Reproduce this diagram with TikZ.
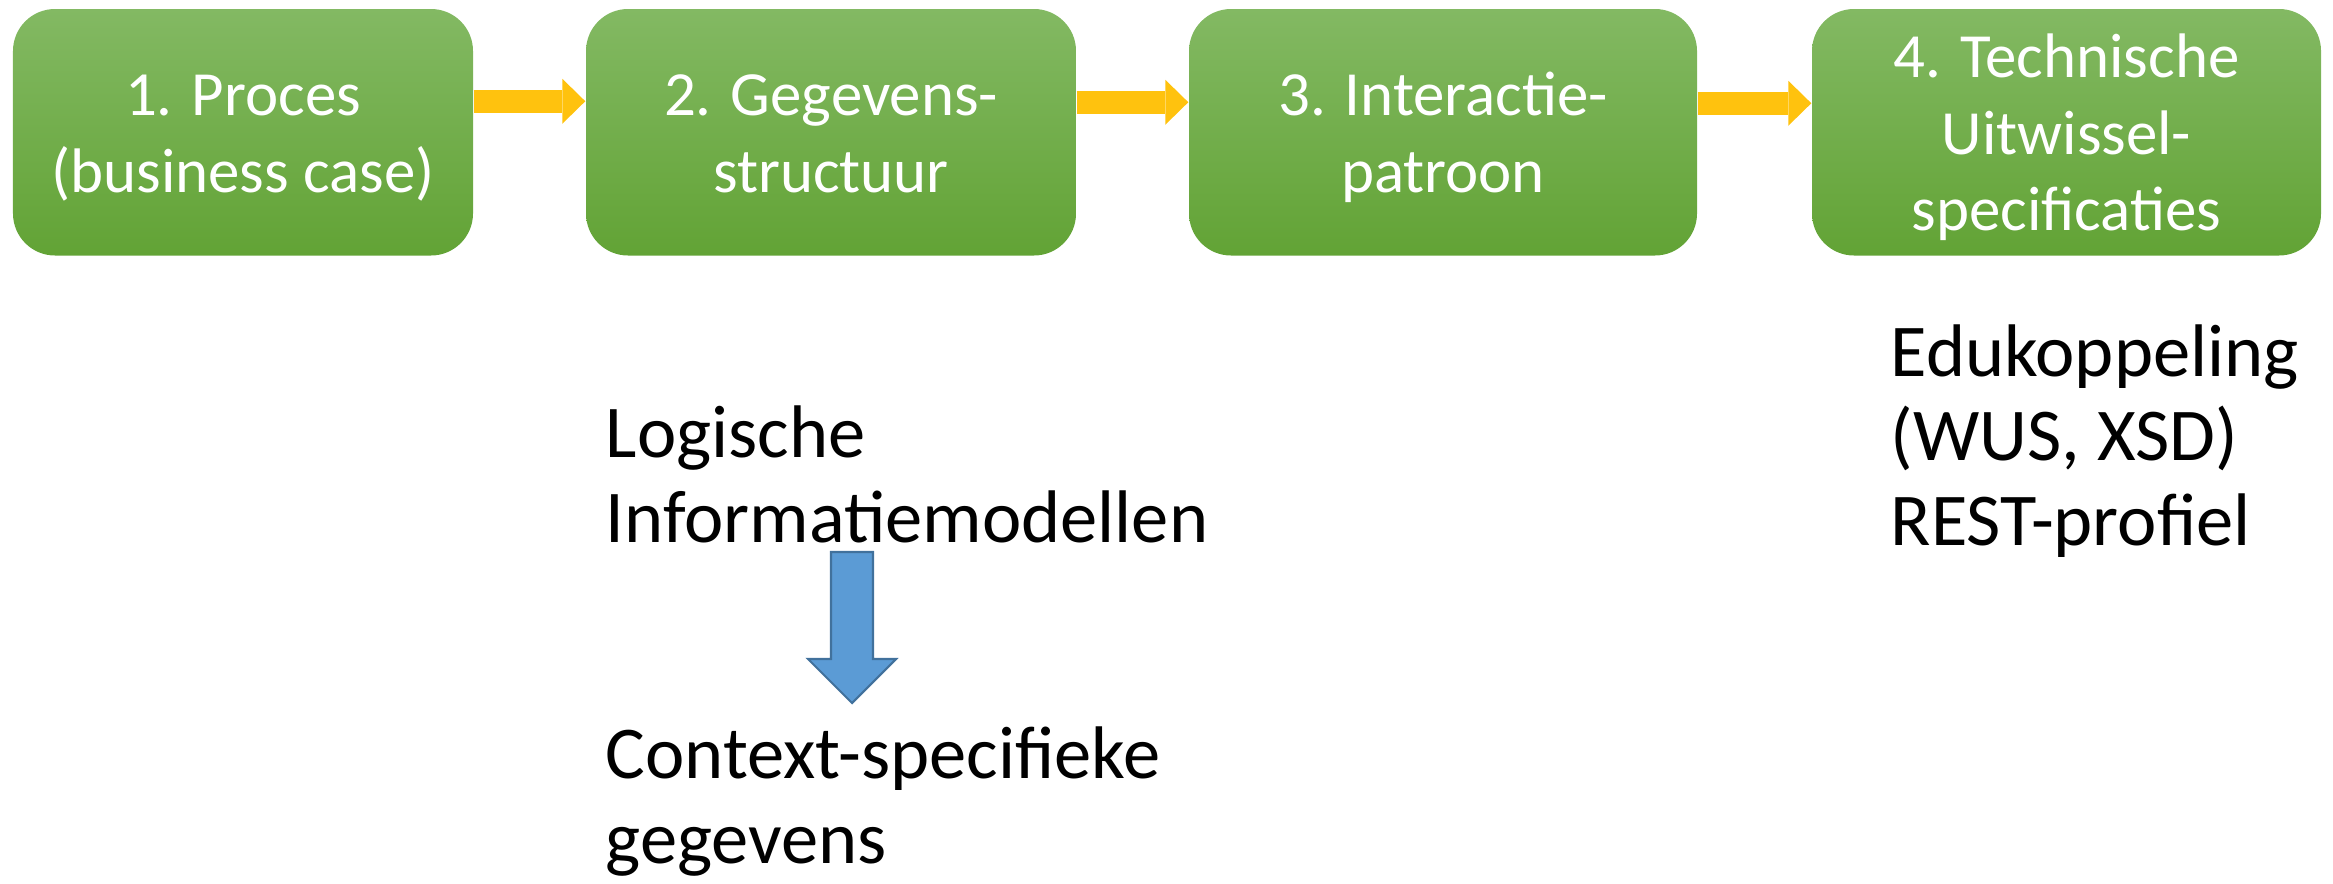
\documentclass[tikz,border=0pt]{standalone}
\usepackage{fontspec}
\setmainfont{Carlito}
\usetikzlibrary{arrows.meta}

\definecolor{phasetop}{RGB}{131,185,99}
\definecolor{phasebottom}{RGB}{98,163,53}
\definecolor{flowyellow}{RGB}{255,194,14}
\definecolor{downblue}{RGB}{91,155,213}
\definecolor{downedge}{RGB}{65,113,156}
% struts so that all step texts sit at the same height
\newcommand{\stapboven}{\rule{0pt}{17.4pt}}
\newcommand{\staponder}{\rule[-5pt]{0pt}{5pt}}

\begin{document}
\begin{tikzpicture}[
    phase/.style={rectangle, rounded corners=0.42cm, minimum height=2.465cm, inner sep=0pt,
        top color=phasetop, bottom color=phasebottom, text=white, align=center,
        font=\fontsize{17.9}{21.8}\selectfont},
    flow/.style={line width=0.23cm, flowyellow, -{Triangle[width=0.45cm, length=0.23cm, line width=0pt]}},
    note/.style={anchor=base west, inner sep=0pt, align=left, font=\fontsize{21.2}{24}\selectfont}
]
\useasboundingbox (0,0) rectangle (23.33,-8.83);

% the four steps
                \node at (2.43,-1.3225) (proces) [phase, minimum width=4.60cm] {\stapboven 1. Proces\\(business case)\staponder};
                \node at (8.31,-1.3225) (structuur) [phase, minimum width=4.90cm] {\stapboven 2. Gegevens-\\structuur\staponder};
                \node at (14.43,-1.3225) (patroon) [phase, minimum width=5.08cm] {\stapboven 3. Interactie-\\patroon\staponder};
                \node at (20.665,-1.3225) (specs) [phase, minimum width=5.09cm] {\stapboven 4. Technische\\Uitwissel-\\specificaties\staponder};
                %
                % arrows between the steps
                \draw [flow] ([yshift=0.31cm]proces.east) -- ([yshift=0.31cm]structuur.west);
                \draw [flow] ([yshift=0.30cm]structuur.east) -- ([yshift=0.30cm]patroon.west);
                \draw [flow] ([yshift=0.29cm]patroon.east) -- ([yshift=0.29cm]specs.west);
                %
                % text under step 2 (anchored on the last line)
                \node at (6.05,-5.42) (logisch) [note] {Logische\\Informatiemodellen};
                \node at (6.05,-8.63) (context) [note] {Context-specifieke\\gegevens};
                %
                % blue arrow down
                \coordinate (pijltop) at (8.52,-5.52);
                \draw [downedge, fill=downblue, line width=0.6pt] (pijltop) ++(-0.21,0) -- ++(0.42,0) -- ++(0,-1.07)
                    -- ++(0.23,0) -- ++(-0.44,-0.44) -- ++(-0.44,0.44) -- ++(0.23,0) -- cycle;
                %
                % text under step 4
                \node at (18.90,-5.45) (koppeling) [note] {Edukoppeling\\(WUS, XSD)\\REST-profiel};
\end{tikzpicture}
\end{document}
